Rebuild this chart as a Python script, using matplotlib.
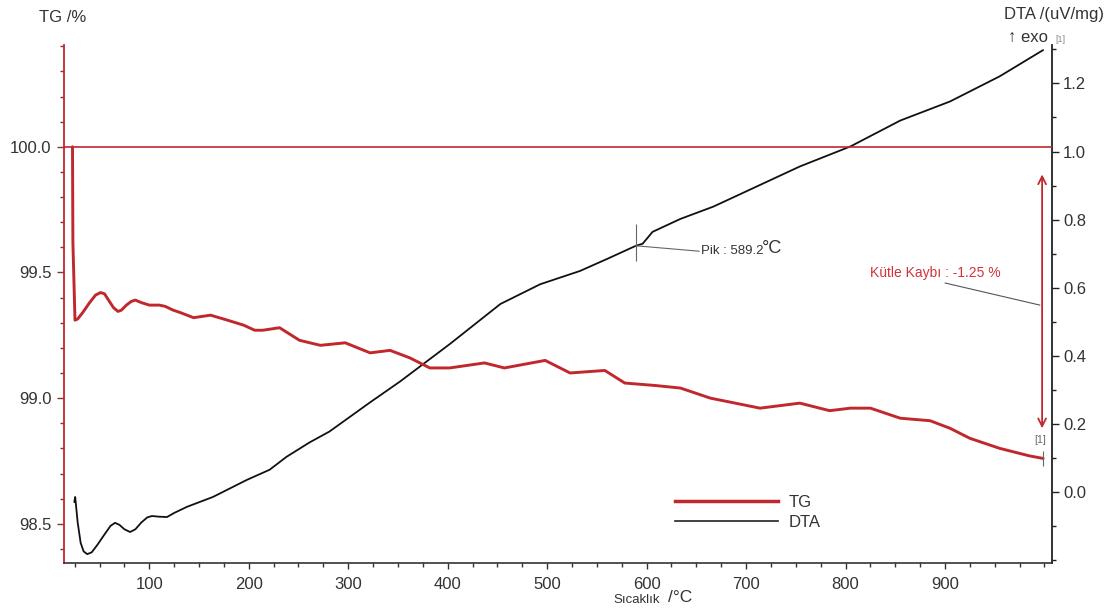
import matplotlib
matplotlib.use("Agg")
import matplotlib.pyplot as plt
from matplotlib.ticker import MultipleLocator, FixedLocator

plt.rcParams['font.family'] = ['Liberation Sans', 'DejaVu Sans']

# ---------------- data ----------------
tg_temp = [22.8, 23.2, 25.3, 28.0, 33.0, 40.0, 46.0, 51.0, 55.0, 59.0, 64.0,
           68.5, 72.0, 77.0, 82.0, 86.0, 92.0, 100.0, 110.0, 116.0, 124.0,
           131.4, 144.5, 161.6, 178.7, 195.0, 206.0, 214.0, 231.0, 251.0,
           272.0, 297.0, 322.0, 342.0, 362.0, 382.0, 402.0, 437.0, 457.0,
           498.0, 523.0, 558.0, 578.0, 609.0, 634.0, 664.0, 689.0, 714.0,
           734.0, 754.0, 784.0, 805.0, 825.0, 855.0, 885.0, 905.0, 925.0,
           955.0, 985.0, 998.6]
tg_vals = [100.0, 99.62, 99.31, 99.315, 99.34, 99.38, 99.41, 99.42, 99.415,
           99.39, 99.36, 99.345, 99.35, 99.37, 99.385, 99.39, 99.38, 99.37,
           99.37, 99.365, 99.35, 99.34, 99.32, 99.33, 99.31, 99.29, 99.27,
           99.27, 99.28, 99.23, 99.21, 99.22, 99.18, 99.19, 99.16, 99.12,
           99.12, 99.14, 99.12, 99.15, 99.10, 99.11, 99.06, 99.05, 99.04,
           99.00, 98.98, 98.96, 98.97, 98.98, 98.95, 98.96, 98.96, 98.92,
           98.91, 98.88, 98.84, 98.80, 98.77, 98.76]

dta_temp = [24.6, 25.5, 28.0, 31.0, 34.0, 37.6, 42.0, 48.0, 55.0, 61.0, 65.6,
            70.0, 75.0, 80.7, 86.0, 92.0, 98.0, 102.7, 110.0, 117.8, 125.0,
            137.9, 164.0, 198.0, 221.0, 238.0, 261.0, 281.0, 302.0, 322.0,
            352.0, 402.0, 453.0, 493.0, 533.0, 560.0, 589.2, 596.0, 606.0,
            634.0, 667.0, 684.0, 754.0, 805.0, 855.0, 905.0, 955.0, 998.6]
dta_vals = [-0.03, -0.015, -0.09, -0.15, -0.175, -0.183, -0.178, -0.155,
            -0.125, -0.10, -0.091, -0.097, -0.11, -0.118, -0.11, -0.09,
            -0.075, -0.071, -0.073, -0.074, -0.062, -0.044, -0.015, 0.035,
            0.065, 0.103, 0.145, 0.177, 0.221, 0.263, 0.324, 0.434, 0.552,
            0.61, 0.649, 0.684, 0.723, 0.729, 0.764, 0.802, 0.838, 0.861,
            0.956, 1.015, 1.091, 1.147, 1.221, 1.298]

tg_ticks = [98.5, 99.0, 99.5, 100.0]
dta_ticks = [0.0, 0.2, 0.4, 0.6, 0.8, 1.0, 1.2]
x_ticks = [100, 200, 300, 400, 500, 600, 700, 800, 900]

peak_temp = 589.2
peak_val = 0.723
mass_loss = -1.25

RED = '#c0282d'
TXT = '#333333'

fig = plt.figure(figsize=(11.16, 6.12), dpi=100)
ax = fig.add_axes([0.0573, 0.0801, 0.8854, 0.8464])
ax2 = ax.twinx()

ax.set_xlim(14.2, 1007.6)
ax.set_ylim(98.344, 100.405)
ax2.set_ylim(-0.209, 1.313)

# horizontal 100 % line
ax.axhline(100.0, color=RED, lw=1.2, zorder=2)

# curves
ax2.plot(dta_temp, dta_vals, color='#111111', lw=1.3, zorder=3,
         solid_joinstyle='round', solid_capstyle='round')
ax.plot(tg_temp, tg_vals, color=RED, lw=2.1, zorder=4,
        solid_joinstyle='round', solid_capstyle='round')
ax.set_zorder(ax2.get_zorder() + 1)
ax.patch.set_visible(False)

# spines
ax.spines['top'].set_visible(False)
ax2.spines['top'].set_visible(False)
ax.spines['right'].set_visible(False)
ax2.spines['left'].set_visible(False)
ax2.spines['bottom'].set_visible(False)
ax.spines['left'].set_color(RED)
ax.spines['left'].set_linewidth(1.3)
ax.spines['bottom'].set_color('#333333')
ax.spines['bottom'].set_linewidth(1.2)
ax2.spines['right'].set_color('#222222')
ax2.spines['right'].set_linewidth(1.3)

# ticks
ax.xaxis.set_major_locator(FixedLocator(x_ticks))
ax.xaxis.set_minor_locator(MultipleLocator(25))
ax.yaxis.set_major_locator(FixedLocator(tg_ticks))
ax.yaxis.set_minor_locator(MultipleLocator(0.1))
ax2.yaxis.set_major_locator(FixedLocator(dta_ticks))
ax2.yaxis.set_minor_locator(MultipleLocator(0.1))
ax.set_yticklabels([f"{v:.1f}" for v in tg_ticks])
ax2.set_yticklabels([f"{v:.1f}" for v in dta_ticks])

ax.tick_params(axis='x', which='major', length=4, width=1, color='#333333',
               labelsize=12, labelcolor=TXT, pad=6)
ax.tick_params(axis='x', which='minor', length=3, width=1, color='#333333')
ax.tick_params(axis='y', which='major', length=5, width=1, color='#8a3030',
               labelsize=12, labelcolor=TXT, pad=4)
ax.tick_params(axis='y', which='minor', length=3, width=1, color='#8a3030')
ax2.tick_params(axis='y', which='major', length=5, width=1, color='#222222',
                labelsize=12, labelcolor=TXT, pad=3)
ax2.tick_params(axis='y', which='minor', length=3, width=1, color='#222222')

# axis titles
fig.text(63 / 1116, 1 - 17 / 612, 'TG /%', ha='center', va='center',
         fontsize=12, color=TXT)
fig.text(1104 / 1116, 1 - 15 / 612, 'DTA /(uV/mg)', ha='right', va='center',
         fontsize=12, color=TXT)
fig.text(1008 / 1116, 1 - 37 / 612, '\u2191 exo', ha='left', va='center',
         fontsize=12, color=TXT)
fig.text(1060 / 1116, 1 - 40 / 612, '[1]', ha='center', va='center',
         fontsize=6.5, color='#888888')
fig.text(613 / 1116, 1 - 600 / 612, 'S\u0131cakl\u0131k', ha='left', va='center',
         fontsize=9.5, color=TXT)
fig.text(668 / 1116, 1 - 597 / 612, '/\u00b0C', ha='left', va='center',
         fontsize=12.5, color=TXT)

# peak annotation
ax2.vlines(peak_temp, peak_val - 0.045, peak_val + 0.065, color='#666666',
           lw=0.8, zorder=5)
ax2.annotate('', xy=(peak_temp, peak_val), xytext=(653, 0.707),
             arrowprops=dict(arrowstyle='-', color='#666666', lw=0.8,
                             shrinkA=0, shrinkB=0))
ax2.text(655, 0.708, f'Pik : {peak_temp}', ha='left', va='center',
         fontsize=9.5, color=TXT)
ax2.text(715.5, 0.714, '\u00b0C', ha='left', va='center', fontsize=13,
         color=TXT)

# mass loss annotation
ax.annotate('', xy=(997.6, 99.89), xytext=(997.6, 98.88),
            arrowprops=dict(arrowstyle='<->', color=RED, lw=1.3,
                            mutation_scale=14, shrinkA=0, shrinkB=0), zorder=6)
ax.annotate('', xy=(995.4, 99.37), xytext=(900, 99.458),
            arrowprops=dict(arrowstyle='-', color='#555555', lw=0.8,
                            shrinkA=0, shrinkB=0))
ax.text(824.6, 99.498, f'K\u00fctle Kayb\u0131 : {mass_loss} %', ha='left',
        va='center', fontsize=10, color='#d0343a')
ax.text(995.5, 98.835, '[1]', ha='center', va='center', fontsize=7.5,
        color='#666666')
ax.vlines(998.6, 98.73, 98.79, color='#666666', lw=0.8, zorder=6)

# legend
ax.plot([], [], color=RED, lw=2.5, label='TG')
ax.plot([], [], color='#222222', lw=1.2, label='DTA')
leg = ax.legend(loc='upper left', bbox_to_anchor=(675 / 1116, 1 - 495 / 612),
                bbox_transform=fig.transFigure, frameon=False, fontsize=12,
                handlelength=6.2, handletextpad=0.6, labelspacing=0.3,
                borderpad=0, borderaxespad=0)
for t in leg.get_texts():
    t.set_color(TXT)

fig.savefig('out.png', dpi=100)
